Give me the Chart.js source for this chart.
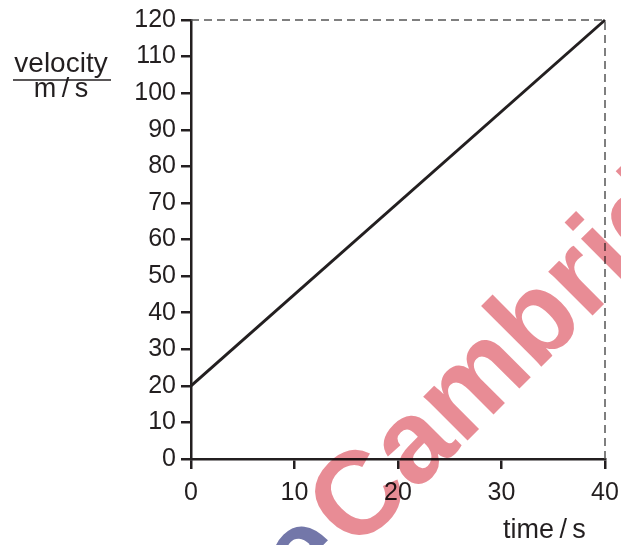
<!DOCTYPE html>
<html>
<head>
<meta charset="utf-8">
<script src="https://cdn.jsdelivr.net/npm/chart.js@4"></script>
<style>
  html, body { margin: 0; padding: 0; background: #fff; }
  canvas { display: block; }
</style>
</head>
<body>
<canvas id="velocityChart" width="621" height="545"></canvas>
<script>
/* ===============================
   Data
================================*/
const timeValues = [0, 40];
const velocityValues = [20, 120];
const guideTime = [0, 40, 40];
const guideVelocity = [120, 120, 0];
const xTickValues = [0, 10, 20, 30, 40];
const yTickValues = [0, 10, 20, 30, 40, 50, 60, 70, 80, 90, 100, 110, 120];

const INK = "#231f20";
const FONT = '"Liberation Sans", Arial, sans-serif';

/* ===============================
   Axis titles (fraction style)
================================*/
const axisTitles = {
  id: "axisTitles",
  afterDraw(chart) {
    const ctx = chart.ctx;
    ctx.save();
    ctx.fillStyle = INK;
    ctx.font = "28px " + FONT;
    ctx.textAlign = "center";
    ctx.textBaseline = "alphabetic";
    ctx.fillText("velocity", 61, 72);
    ctx.font = "27px " + FONT;
    ctx.fillText("m\u2009/\u2009s", 61, 97);
    ctx.strokeStyle = INK;
    ctx.lineWidth = 1.5;
    ctx.beginPath();
    ctx.moveTo(13, 80);
    ctx.lineTo(111, 80);
    ctx.stroke();
    ctx.textAlign = "left";
    ctx.fillText("time\u2009/\u2009s", 503, 538);
    ctx.restore();
  }
};

/* ===============================
   Watermark
================================*/
const watermark = {
  id: "watermark",
  afterDraw(chart) {
    const ctx = chart.ctx;
    ctx.save();
    ctx.globalCompositeOperation = "multiply";
    ctx.font = "bold 118px " + FONT;
    ctx.translate(355, 553);
    ctx.rotate(-45 * Math.PI / 180);
    ctx.fillStyle = "rgba(230, 128, 138, 0.9)";
    ctx.fillText("Cambridge", 0, 0);
    ctx.fillStyle = "rgba(100, 104, 160, 0.9)";
    const w = ctx.measureText("e").width;
    ctx.fillText("e", -w - 6, 0);
    ctx.restore();
  }
};

/* ===============================
   Chart
================================*/
new Chart(document.getElementById("velocityChart"), {
  type: "scatter",
  data: {
    datasets: [
      {
        label: "guide",
        data: guideTime.map((t, i) => ({ x: t, y: guideVelocity[i] })),
        showLine: true,
        borderColor: "#555",
        borderWidth: 1.5,
        borderDash: [8, 5],
        pointRadius: 0,
        clip: false
      },
      {
        label: "velocity",
        data: timeValues.map((t, i) => ({ x: t, y: velocityValues[i] })),
        showLine: true,
        borderColor: INK,
        borderWidth: 3,
        pointRadius: 0,
        clip: false
      }
    ]
  },
  options: {
    responsive: false,
    animation: false,
    devicePixelRatio: 1,
    layout: { padding: { left: 0, top: 18, right: 16, bottom: 0 } },
    plugins: {
      legend: { display: false },
      tooltip: { enabled: false }
    },
    scales: {
      x: {
        type: "linear",
        min: 0,
        max: 40,
        afterFit(scale) {
          scale.height = 86;
          scale.paddingLeft = 0;
          scale.paddingRight = 0;
        },
        afterBuildTicks(scale) { scale.ticks = xTickValues.map(v => ({ value: v })); },
        border: { display: true, color: INK, width: 2.5 },
        grid: { drawOnChartArea: false, drawTicks: true, tickLength: 10, color: INK, lineWidth: 2.5 },
        ticks: { color: INK, font: { size: 25, family: FONT }, padding: 9, maxRotation: 0 }
      },
      y: {
        type: "linear",
        min: 0,
        max: 120,
        afterFit(scale) { scale.width = 191; },
        afterBuildTicks(scale) { scale.ticks = yTickValues.map(v => ({ value: v })); },
        border: { display: true, color: INK, width: 2.5 },
        grid: { drawOnChartArea: false, drawTicks: true, tickLength: 10, color: INK, lineWidth: 2.5 },
        ticks: { color: INK, font: { size: 25, family: FONT }, padding: 5 }
      }
    }
  },
  plugins: [axisTitles, watermark]
});
</script>
</body>
</html>
